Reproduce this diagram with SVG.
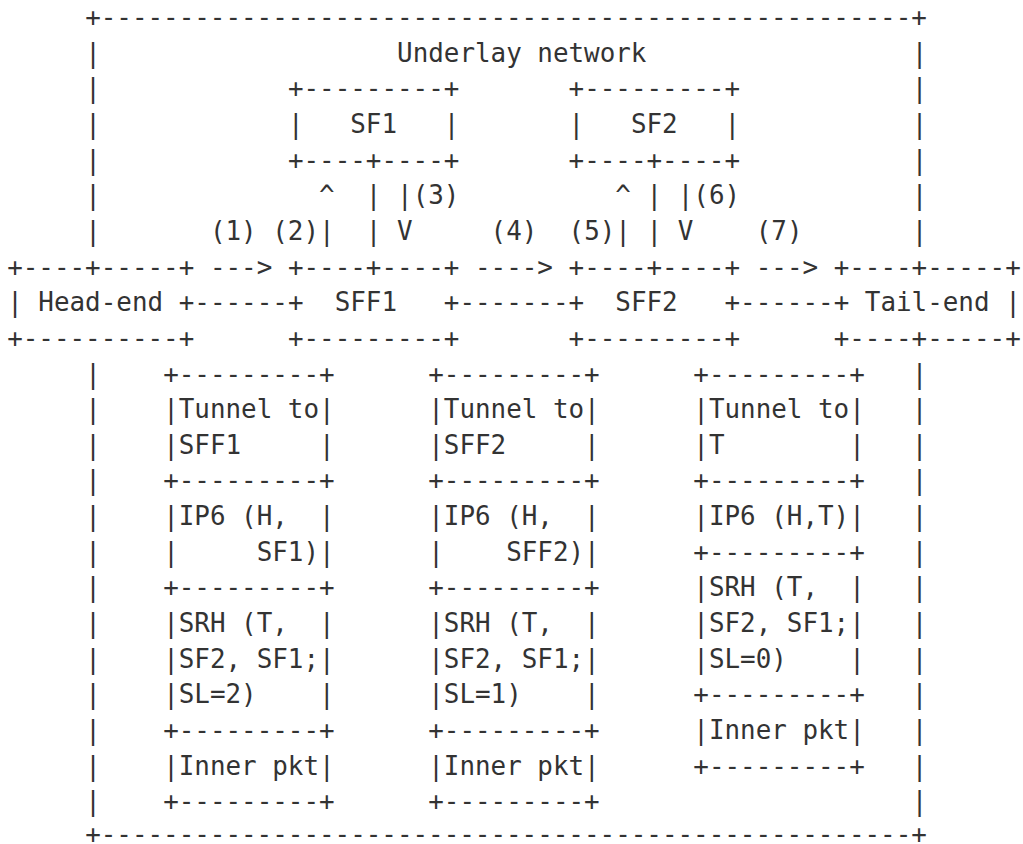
<svg xmlns="http://www.w3.org/2000/svg" width="1023" height="844" viewBox="0 0 1023 844" xml:space="preserve">
  <style>
    text { font-family: "DejaVu Sans Mono", "Liberation Mono", monospace; font-size: 25.9px; fill: #333; white-space: pre; }
  </style>
  <rect width="1023" height="844" fill="#fff"/>

  <!-- Underlay network frame: column 5 to column 58 -->
  <g id="underlay">
    <text x="85.17" y="26">+----------------------------------------------------+</text>
    <text x="85.17" y="61.65">|</text><text x="397.05" y="61.65">Underlay network</text><text x="911.65" y="61.65">|</text>
    <text x="85.17" y="97.3">|</text><text x="911.65" y="97.3">|</text>
    <text x="85.17" y="132.95">|</text><text x="911.65" y="132.95">|</text>
    <text x="85.17" y="168.6">|</text><text x="911.65" y="168.6">|</text>
    <text x="85.17" y="204.25">|</text><text x="911.65" y="204.25">|</text>
    <text x="85.17" y="239.9">|</text><text x="911.65" y="239.9">|</text>
    <text x="85.17" y="382.5">|</text><text x="911.65" y="382.5">|</text>
    <text x="85.17" y="418.15">|</text><text x="911.65" y="418.15">|</text>
    <text x="85.17" y="453.8">|</text><text x="911.65" y="453.8">|</text>
    <text x="85.17" y="489.45">|</text><text x="911.65" y="489.45">|</text>
    <text x="85.17" y="525.1">|</text><text x="911.65" y="525.1">|</text>
    <text x="85.17" y="560.75">|</text><text x="911.65" y="560.75">|</text>
    <text x="85.17" y="596.4">|</text><text x="911.65" y="596.4">|</text>
    <text x="85.17" y="632.05">|</text><text x="911.65" y="632.05">|</text>
    <text x="85.17" y="667.7">|</text><text x="911.65" y="667.7">|</text>
    <text x="85.17" y="703.35">|</text><text x="911.65" y="703.35">|</text>
    <text x="85.17" y="739">|</text><text x="911.65" y="739">|</text>
    <text x="85.17" y="774.65">|</text><text x="911.65" y="774.65">|</text>
    <text x="85.17" y="810.3">|</text><text x="911.65" y="810.3">|</text>
    <text x="85.17" y="843">+----------------------------------------------------+</text>
  </g>

  <!-- Service functions -->
  <g id="sf1">
    <text x="287.89" y="97.3">+---------+</text>
    <text x="287.89" y="132.95">|   SF1   |</text>
    <text x="287.89" y="168.6">+----+----+</text>
  </g>
  <g id="sf2">
    <text x="568.58" y="97.3">+---------+</text>
    <text x="568.58" y="132.95">|   SF2   |</text>
    <text x="568.58" y="168.6">+----+----+</text>
  </g>

  <!-- Head-end, forwarders and tail-end -->
  <g id="head-end">
    <text x="7.2" y="275.55">+----+-----+</text>
    <text x="7.2" y="311.2">| Head-end +</text>
    <text x="7.2" y="346.85">+----------+</text>
  </g>
  <g id="sff1">
    <text x="287.89" y="275.55">+----+----+</text>
    <text x="287.89" y="311.2">+  SFF1   +</text>
    <text x="287.89" y="346.85">+---------+</text>
  </g>
  <g id="sff2">
    <text x="568.58" y="275.55">+----+----+</text>
    <text x="568.58" y="311.2">+  SFF2   +</text>
    <text x="568.58" y="346.85">+---------+</text>
  </g>
  <g id="tail-end">
    <text x="833.68" y="275.55">+----+-----+</text>
    <text x="833.68" y="311.2">+ Tail-end |</text>
    <text x="833.68" y="346.85">+----+-----+</text>
  </g>

  <!-- Links, arrows and step numbers -->
  <g id="connectors">
    <text x="319.08" y="204.25">^</text><text x="365.86" y="204.25">|</text><text x="397.05" y="204.25">|(3)</text>
    <text x="615.37" y="204.25">^</text><text x="646.55" y="204.25">|</text><text x="677.74" y="204.25">|(6)</text>
    <text x="209.92" y="239.9">(1) (2)|</text><text x="365.86" y="239.9">|</text><text x="397.05" y="239.9">V</text>
    <text x="490.61" y="239.9">(4)</text>
    <text x="568.58" y="239.9">(5)|</text><text x="646.55" y="239.9">|</text><text x="677.74" y="239.9">V</text>
    <text x="755.71" y="239.9">(7)</text>
    <text x="209.92" y="275.55">---&gt;</text>
    <text x="475.02" y="275.55">----&gt;</text>
    <text x="755.71" y="275.55">---&gt;</text>
    <text x="194.33" y="311.2">------</text>
    <text x="459.43" y="311.2">-------</text>
    <text x="740.12" y="311.2">------</text>
  </g>

  <!-- Packet headers on each hop -->
  <g id="packet-to-sff1">
    <text x="163.14" y="382.5">+---------+</text>
    <text x="163.14" y="418.15">|Tunnel to|</text>
    <text x="163.14" y="453.8">|SFF1     |</text>
    <text x="163.14" y="489.45">+---------+</text>
    <text x="163.14" y="525.1">|IP6 (H,  |</text>
    <text x="163.14" y="560.75">|     SF1)|</text>
    <text x="163.14" y="596.4">+---------+</text>
    <text x="163.14" y="632.05">|SRH (T,  |</text>
    <text x="163.14" y="667.7">|SF2, SF1;|</text>
    <text x="163.14" y="703.35">|SL=2)    |</text>
    <text x="163.14" y="739">+---------+</text>
    <text x="163.14" y="774.65">|Inner pkt|</text>
    <text x="163.14" y="810.3">+---------+</text>
  </g>
  <g id="packet-to-sff2">
    <text x="428.24" y="382.5">+---------+</text>
    <text x="428.24" y="418.15">|Tunnel to|</text>
    <text x="428.24" y="453.8">|SFF2     |</text>
    <text x="428.24" y="489.45">+---------+</text>
    <text x="428.24" y="525.1">|IP6 (H,  |</text>
    <text x="428.24" y="560.75">|    SFF2)|</text>
    <text x="428.24" y="596.4">+---------+</text>
    <text x="428.24" y="632.05">|SRH (T,  |</text>
    <text x="428.24" y="667.7">|SF2, SF1;|</text>
    <text x="428.24" y="703.35">|SL=1)    |</text>
    <text x="428.24" y="739">+---------+</text>
    <text x="428.24" y="774.65">|Inner pkt|</text>
    <text x="428.24" y="810.3">+---------+</text>
  </g>
  <g id="packet-to-tail">
    <text x="693.34" y="382.5">+---------+</text>
    <text x="693.34" y="418.15">|Tunnel to|</text>
    <text x="693.34" y="453.8">|T        |</text>
    <text x="693.34" y="489.45">+---------+</text>
    <text x="693.34" y="525.1">|IP6 (H,T)|</text>
    <text x="693.34" y="560.75">+---------+</text>
    <text x="693.34" y="596.4">|SRH (T,  |</text>
    <text x="693.34" y="632.05">|SF2, SF1;|</text>
    <text x="693.34" y="667.7">|SL=0)    |</text>
    <text x="693.34" y="703.35">+---------+</text>
    <text x="693.34" y="739">|Inner pkt|</text>
    <text x="693.34" y="774.65">+---------+</text>
  </g>
</svg>
